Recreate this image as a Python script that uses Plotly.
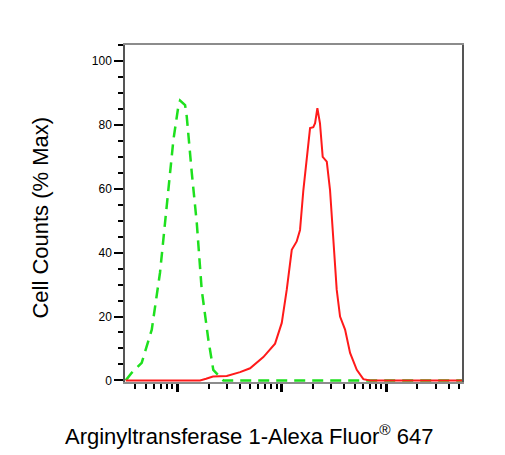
import plotly.graph_objects as go

# Isotype control (green dashed)
iso_x = [3.23, 3.68, 4.59, 5.73, 6.87, 7.96, 9.23, 10.28, 10.69, 11.94, 12.39,
         13.84, 15.45, 17.22, 19.95, 22.23, 27.73, 5333]
iso_y = [0, 2.4, 5.5, 15.9, 33.7, 54.4, 75.3, 85.7, 87.6, 86.2, 82.6,
         65.0, 49.3, 28.4, 12.7, 3.3, 0, 0]

# Arginyltransferase 1 stained sample (red)
smp_x = [3.23, 16.6, 18.97, 22.08, 29.92, 40.09, 50.0, 66.99, 86.7, 100.5, 112.2,
         125.3, 139.6, 150.3, 161.8, 174.2, 187.5, 201.4, 209.4, 220.3, 233.3,
         247.7, 271.0, 291.1, 313.3, 337.3, 363.1, 405.5, 452.9, 524.8, 606.7,
         703.1, 5333]
smp_y = [0, 0, 0.5, 1.2, 1.4, 2.6, 3.8, 7.3, 11.5, 18, 28.4,
         40.9, 43.5, 47.1, 59.6, 70, 79, 79.3, 80.5, 85.2, 80.5,
         70, 68.5, 59.6, 44, 28.4, 20, 15.9, 8.6, 3.3, 0.4,
         0, 0]

x_major = [10, 100, 1000]
x_minor = [4, 5, 6, 7, 8, 9, 20, 30, 40, 50, 60, 70, 80, 90,
           200, 300, 400, 500, 600, 700, 800, 900, 2000, 3000, 4000, 5000]
y_ticks = [0, 20, 40, 60, 80, 100]

x_title = "Arginyltransferase 1-Alexa Fluor<sup>®</sup> 647"
y_title = "Cell Counts (% Max)"

fig = go.Figure()
fig.add_trace(go.Scatter(x=iso_x, y=iso_y, mode="lines",
                         line=dict(color="#1ee01e", width=2.5, dash="11px,7px"),
                         showlegend=False, hoverinfo="skip"))
fig.add_trace(go.Scatter(x=smp_x, y=smp_y, mode="lines",
                         line=dict(color="#ff1a1a", width=2),
                         showlegend=False, hoverinfo="skip"))

fig.update_layout(
    width=505, height=455,
    margin=dict(l=125, r=43, t=45, b=73),
    paper_bgcolor="white", plot_bgcolor="white",
    font=dict(family="Liberation Sans, Arial, sans-serif", color="black"),
    xaxis=dict(type="log", range=[0.502, 3.727], showgrid=False, zeroline=False,
               showline=True, linecolor="#8c8c8c", linewidth=1.5, mirror=True,
               tickmode="array", tickvals=x_major, showticklabels=False,
               ticks="outside", ticklen=8, tickwidth=3, tickcolor="black",
               minor=dict(tickmode="array", tickvals=x_minor, ticks="outside",
                          ticklen=5, tickwidth=1.5, tickcolor="black",
                          showgrid=False)),
    yaxis=dict(range=[-0.5, 105], showgrid=False, zeroline=False,
               showline=True, linecolor="#555555", linewidth=1.5, mirror=True,
               tickmode="array", tickvals=y_ticks,
               ticks="outside", ticklen=9, tickwidth=2, tickcolor="black",
               tickfont=dict(size=12, color="black"),
               minor=dict(dtick=5, ticks="outside", ticklen=5, tickwidth=1.5,
                          tickcolor="black", showgrid=False)),
    annotations=[
        dict(text=x_title, xref="paper", yref="paper", x=0.368, y=-0.157,
             xanchor="center", yanchor="middle", showarrow=False,
             font=dict(size=22, color="black")),
        dict(text=y_title, xref="paper", yref="paper", x=-0.252, y=0.488,
             xanchor="center", yanchor="middle", textangle=-90, showarrow=False,
             font=dict(size=22, color="black")),
    ],
)

fig.write_html("out.html", config={"displayModeBar": False},
               post_script="document.body.style.margin='0';")
